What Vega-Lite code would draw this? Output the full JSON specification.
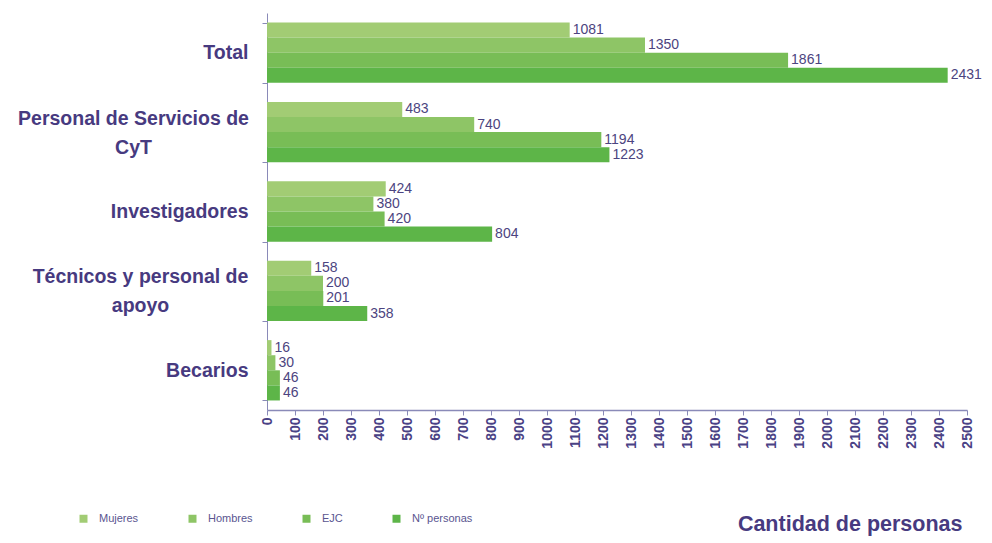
{
  "$schema": "https://vega.github.io/schema/vega-lite/v6.json",
  "width": 700,
  "height": 397,
  "autosize": {"type": "none"},
  "padding": {"left": 267, "top": 13, "right": 25, "bottom": 133},
  "background": "white",
  "config": {
    "view": {"stroke": null},
    "font": "Liberation Sans"
  },
  "data": {
    "values": [
      {"categoria": "Total", "serie": "Mujeres", "valor": 1081},
      {"categoria": "Total", "serie": "Hombres", "valor": 1350},
      {"categoria": "Total", "serie": "EJC", "valor": 1861},
      {"categoria": "Total", "serie": "Nº personas", "valor": 2431},
      {"categoria": "Personal de Servicios de CyT", "serie": "Mujeres", "valor": 483},
      {"categoria": "Personal de Servicios de CyT", "serie": "Hombres", "valor": 740},
      {"categoria": "Personal de Servicios de CyT", "serie": "EJC", "valor": 1194},
      {"categoria": "Personal de Servicios de CyT", "serie": "Nº personas", "valor": 1223},
      {"categoria": "Investigadores", "serie": "Mujeres", "valor": 424},
      {"categoria": "Investigadores", "serie": "Hombres", "valor": 380},
      {"categoria": "Investigadores", "serie": "EJC", "valor": 420},
      {"categoria": "Investigadores", "serie": "Nº personas", "valor": 804},
      {"categoria": "Técnicos y personal de apoyo", "serie": "Mujeres", "valor": 158},
      {"categoria": "Técnicos y personal de apoyo", "serie": "Hombres", "valor": 200},
      {"categoria": "Técnicos y personal de apoyo", "serie": "EJC", "valor": 201},
      {"categoria": "Técnicos y personal de apoyo", "serie": "Nº personas", "valor": 358},
      {"categoria": "Becarios", "serie": "Mujeres", "valor": 16},
      {"categoria": "Becarios", "serie": "Hombres", "valor": 30},
      {"categoria": "Becarios", "serie": "EJC", "valor": 46},
      {"categoria": "Becarios", "serie": "Nº personas", "valor": 46}
    ]
  },
  "encoding": {
    "y": {
      "field": "categoria",
      "type": "nominal",
      "sort": ["Total", "Personal de Servicios de CyT", "Investigadores", "Técnicos y personal de apoyo", "Becarios"],
      "scale": {"paddingInner": 0.24, "paddingOuter": 0.12},
      "axis": {
        "title": null,
        "tickBand": "extent",
        "domainColor": "#8a8ab8",
        "tickColor": "#8a8ab8",
        "tickSize": 5,
        "labelFontSize": 19.5,
        "labelFontWeight": "bold",
        "labelColor": "#473a80",
        "labelLineHeight": 29,
        "labelLimit": 400,
        "labelAlign": {"condition": {"test": "datum.value == 'Personal de Servicios de CyT' || datum.value == 'Técnicos y personal de apoyo'", "value": "center"}, "value": "right"},
        "labelPadding": {"condition": [
          {"test": "datum.value == 'Personal de Servicios de CyT'", "value": 129},
          {"test": "datum.value == 'Técnicos y personal de apoyo'", "value": 122}
        ], "value": 14},
        "labelOffset": {"condition": {"test": "datum.value == 'Personal de Servicios de CyT' || datum.value == 'Técnicos y personal de apoyo'", "value": -14}, "value": 0},
        "labelExpr": "datum.value == 'Personal de Servicios de CyT' ? ['Personal de Servicios de', 'CyT'] : datum.value == 'Técnicos y personal de apoyo' ? ['Técnicos y personal de', 'apoyo'] : datum.value"
      }
    },
    "yOffset": {
      "field": "serie",
      "type": "nominal",
      "sort": ["Mujeres", "Hombres", "EJC", "Nº personas"],
      "scale": {"paddingInner": 0, "paddingOuter": 0}
    },
    "x": {
      "field": "valor",
      "type": "quantitative",
      "scale": {"domain": [0, 2500], "nice": false},
      "axis": {
        "title": "Cantidad de personas",
        "titleFontSize": 21.5,
        "titleFontWeight": "bold",
        "titleColor": "#473a80",
        "titleAnchor": "end",
        "titleAlign": "right",
        "titleX": 695,
        "titleY": 120,
        "titleBaseline": "alphabetic",
        "values": [0, 100, 200, 300, 400, 500, 600, 700, 800, 900, 1000, 1100, 1200, 1300, 1400, 1500, 1600, 1700, 1800, 1900, 2000, 2100, 2200, 2300, 2400, 2500],
        "format": "d",
        "grid": false,
        "labelAngle": 270,
        "labelAlign": "right",
        "labelBaseline": "middle",
        "labelFontSize": 14,
        "labelFontWeight": "bold",
        "labelColor": "#4a4285",
        "labelPadding": 2,
        "labelOverlap": false,
        "labelFlush": false,
        "domainColor": "#8a8ab8",
        "domainWidth": 1.5,
        "tickColor": "#8a8ab8",
        "tickSize": 5
      }
    }
  },
  "layer": [
    {
      "mark": {"type": "bar"},
      "encoding": {
        "color": {
          "field": "serie",
          "type": "nominal",
          "sort": ["Mujeres", "Hombres", "EJC", "Nº personas"],
          "scale": {"domain": ["Mujeres", "Hombres", "EJC", "Nº personas"], "range": ["#a2cc74", "#8ec566", "#78bd56", "#5db548"]},
          "legend": {
            "title": null,
            "orient": "none",
            "legendX": -189,
            "legendY": 500,
            "direction": "horizontal",
            "symbolType": "square",
            "symbolSize": 64,
            "symbolStrokeWidth": 0,
            "labelFontSize": 11,
            "labelColor": "#5a5590",
            "labelOffset": 10,
            "columnPadding": 48,
            "padding": 0
          }
        }
      }
    },
    {
      "mark": {"type": "text", "align": "left", "baseline": "middle", "dx": 3, "fontSize": 14, "color": "#4c4480"},
      "encoding": {
        "text": {"field": "valor", "type": "quantitative"}
      }
    }
  ]
}
